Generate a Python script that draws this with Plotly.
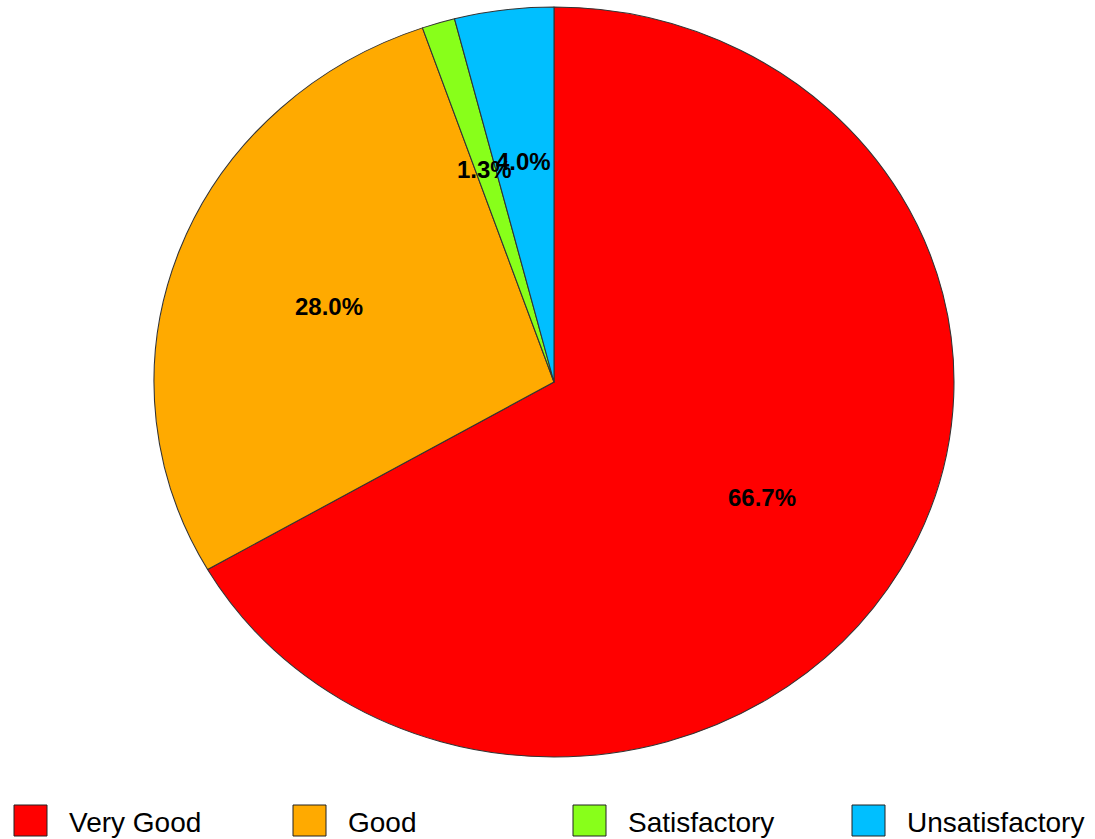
import math
import plotly.graph_objects as go

categories = ["Very Good", "Good", "Satisfactory", "Unsatisfactory"]
counts = [50, 21, 1, 3]
colors = ["#FF0000", "#FFAA00", "#88FF1A", "#00BFFF"]

W, H = 1095, 839
cx, cy = 554, 382          # pie centre in pixels
rx, ry = 400, 375          # reference pie is slightly elliptical
sx = rx / ry

fig = go.Figure(go.Pie(
    labels=categories,
    values=counts,
    sort=False,
    direction="clockwise",
    rotation=0,
    marker=dict(colors=colors, line=dict(color="#333333", width=1)),
    textinfo="none",
    hoverinfo="label+percent",
    domain=dict(x=[(cx - ry) / W, (cx + ry) / W], y=[1 - (cy + ry) / H, 1 - (cy - ry) / H]),
    showlegend=False,
))

annotations = []
total = sum(counts)
cum = 0.0
for v in counts:
    mid = (cum + v / 2) / total * 2 * math.pi
    cum += v
    px = cx + 0.6 * rx * math.sin(mid)
    py = cy - 0.6 * ry * math.cos(mid) + 3
    annotations.append(dict(
        x=px / W, y=1 - py / H, xref="paper", yref="paper",
        text="<b>%.1f%%</b>" % (100 * v / total), showarrow=False,
        font=dict(family="Liberation Sans, Arial", size=24, color="black"),
        xanchor="center", yanchor="middle",
    ))

shapes = []
leg_x = [14, 293, 573, 852]
for i, (name, col) in enumerate(zip(categories, colors)):
    x0 = leg_x[i]
    shapes.append(dict(
        type="rect", xref="paper", yref="paper",
        x0=x0 / W, x1=(x0 + 33) / W, y0=1 - 836 / H, y1=1 - 805 / H,
        fillcolor=col, line=dict(color="#222222", width=1),
    ))
    annotations.append(dict(
        x=(x0 + 53) / W, y=1 - 822 / H, xref="paper", yref="paper",
        text=name, showarrow=False, xanchor="left", yanchor="middle",
        font=dict(family="Liberation Sans, Arial", size=28, color="black"),
    ))

fig.update_layout(
    width=W, height=H,
    margin=dict(l=0, r=0, t=0, b=0),
    paper_bgcolor="white", plot_bgcolor="white",
    annotations=annotations, shapes=shapes,
)

post = (
    "document.body.style.margin='0';document.body.style.overflow='hidden';"
    "var pl=document.querySelector('.pielayer');"
    "if(pl){var t=pl.getAttribute('transform')||'';"
    "pl.setAttribute('transform','translate(%f,0) scale(%f,1) '+t);}"
) % (cx * (1 - sx), sx)

fig.write_html("out.html", config={"displayModeBar": False}, post_script=post)
